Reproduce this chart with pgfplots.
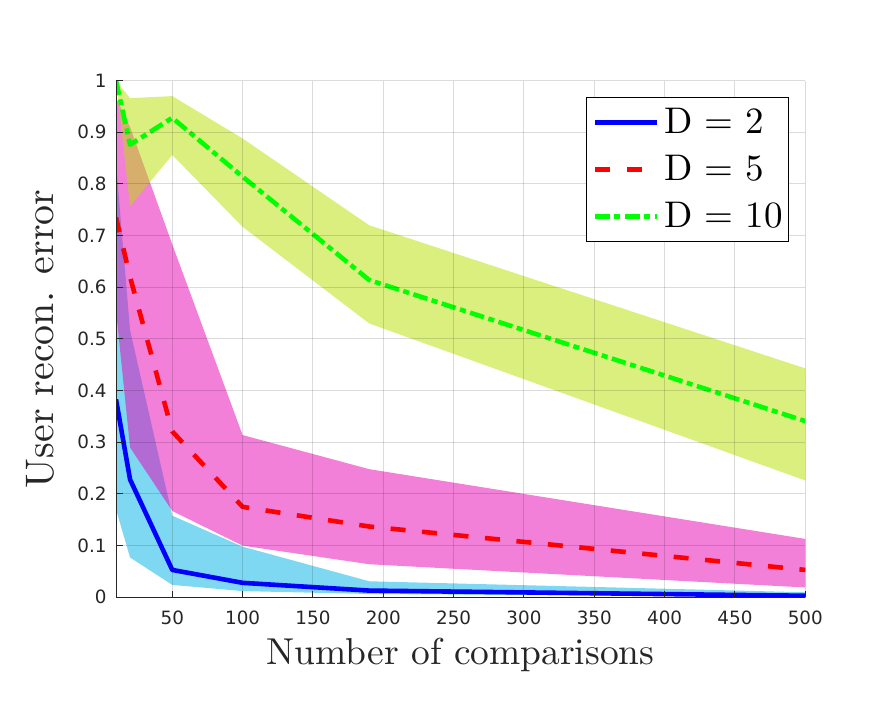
\documentclass[border=0pt]{standalone}
\usepackage{fontspec}
\usepackage{pgfplots}
\pgfplotsset{compat=1.18}
\newfontfamily\ticksf{DejaVu Sans}
\newfontfamily\lmten{lmroman10-regular.otf}
\definecolor{axgray}{HTML}{262626}
\definecolor{bandcyan}{rgb}{0,0.7,0.9}
\definecolor{bandmag}{rgb}{0.9,0,0.7}
\definecolor{bandgreen}{rgb}{0.72,0.88,0}
\begin{document}
\begin{tikzpicture}
\path[use as bounding box] (-58bp,-52.85bp) rectangle (387.5bp,298.65bp);
\begin{axis}[
  at={(0,0)}, anchor=south west,
  scale only axis, width=344.65bp, height=258.35bp,
  xmin=10, xmax=500, ymin=0, ymax=1,
  axis lines*=left,
  axis line style={axgray, line width=0.5bp},
  tick align=inside,
  major tick length=3.3bp,
  tick style={axgray, line width=0.5bp},
  axis on top,
  grid=major,
  major grid style={draw=black, opacity=0.14, line width=0.5bp},
  xtick={50,100,150,200,250,300,350,400,450,500},
  xticklabels={50,100,150,200,250,300,350,400,450,500},
  ytick={0,0.1,0.2,0.3,0.4,0.5,0.6,0.7,0.8,0.9,1},
  yticklabels={0,0.1,0.2,0.3,0.4,0.5,0.6,0.7,0.8,0.9,1},
  xticklabel style={font=\ticksf\fontsize{9.2}{11}\selectfont, text=axgray, anchor=north, inner sep=0pt, yshift=-6.5bp},
  yticklabel style={font=\ticksf\fontsize{9.2}{11}\selectfont, text=axgray, anchor=east, inner sep=0pt, xshift=-4.5bp},
  xlabel={Number of comparisons},
  xlabel style={at={(axis description cs:0.5,-0.1119)}, anchor=center, inner sep=0pt, font=\lmten\fontsize{18.8}{22}\selectfont, text=axgray},
  ylabel={User recon. error},
  ylabel style={at={(axis description cs:-0.1100,0.5)}, anchor=center, inner sep=0pt, font=\lmten\fontsize{20}{24}\selectfont, text=axgray},
  legend style={at={(0.977,0.968)}, anchor=north east, draw=black, line width=0.5bp, fill=white,
    inner xsep=3bp, inner ysep=5.3bp, row sep=9.45bp, column sep=2.5bp,
    font=\lmten\fontsize{18.6}{22}\selectfont, nodes={inner sep=0pt}},
  legend cell align=left,
  legend image code/.code={\draw[#1] (0bp,0bp) -- (30.8bp,0bp);},
]
% bands
\addplot[draw=none, fill=bandcyan, fill opacity=0.5, forget plot] coordinates {
 (10,0.84) (20,0.517) (50,0.158) (100,0.098) (190,0.031) (500,0.0097)
 (500,0.001) (190,0.0064) (100,0.012) (50,0.024) (20,0.077) (10,0.17)} \closedcycle;
\addplot[draw=none, fill=bandmag, fill opacity=0.5, forget plot] coordinates {
 (10,0.967) (20,0.91) (50,0.683) (100,0.314) (190,0.248) (500,0.113)
 (500,0.019) (190,0.064) (100,0.1) (50,0.167) (20,0.29) (10,0.555)} \closedcycle;
\addplot[draw=none, fill=bandgreen, fill opacity=0.5, forget plot] coordinates {
 (10,1.0) (20,0.966) (50,0.97) (100,0.888) (190,0.72) (500,0.443)
 (500,0.226) (190,0.53) (100,0.717) (50,0.856) (20,0.757) (10,1.0)} \closedcycle;
% lines
\addplot[blue, line width=2.3bp, line join=round] coordinates {
 (10,0.383) (20,0.228) (50,0.053) (100,0.028) (190,0.013) (500,0.003)};
\addlegendentry{D = 2}
\addplot[red, line width=2.3bp, line join=round, dash pattern=on 7.5bp off 8.3bp] coordinates {
 (10,0.735) (20,0.62) (50,0.321) (100,0.175) (190,0.137) (500,0.053)};
\addlegendentry{D = 5}
\addplot[green, line width=2.3bp, line join=round, dash pattern=on 7.3bp off 2.3bp on 3bp off 2.3bp] coordinates {
 (10,1.0) (20,0.876) (50,0.928) (100,0.814) (190,0.614) (500,0.341)};
\addlegendentry{D = 10}
\end{axis}
\end{tikzpicture}
\end{document}
